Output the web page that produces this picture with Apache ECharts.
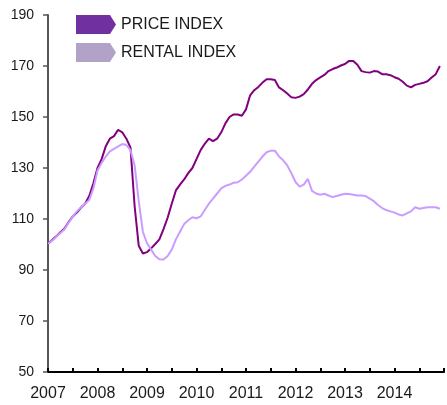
<!DOCTYPE html>
<html>
<head>
<meta charset="utf-8">
<script src="https://cdn.jsdelivr.net/npm/echarts@6/dist/echarts.min.js"></script>
<style>
html,body{margin:0;padding:0;background:#fff;}
#chart{width:447px;height:405px;}
</style>
</head>
<body>
<div id="chart"></div>
<script>
// Monthly observations, Jan 2007 .. Dec 2014
var startYear = 2007;
var priceIndex = [
  100.3,101.8,103.2,104.8,106.3,108.8,111.0,112.5,114.5,116.0,119.0,124.0,
  130.0,133.5,138.5,141.5,142.5,145.0,144.0,141.5,138.0,115.0,99.5,96.5,
  97.0,98.5,100.2,102.0,106.0,110.5,116.0,121.2,123.5,125.5,128.0,130.0,
  133.5,137.0,139.5,141.5,140.5,141.5,144.0,147.5,150.0,151.0,151.0,150.5,
  153.0,158.5,160.5,161.8,163.5,164.8,164.8,164.5,161.6,160.5,159.2,157.7,
  157.5,158.0,159.0,160.8,163.0,164.5,165.5,166.5,168.0,168.8,169.4,170.2,
  170.8,172.0,172.0,170.5,168.0,167.6,167.4,168.0,167.8,166.8,166.8,166.4,
  165.6,165.0,163.8,162.3,161.6,162.6,163.0,163.4,164.0,165.5,166.8,170.0
];
var rentalIndex = [
  100.3,101.5,103.0,104.5,106.0,108.5,111.0,113.0,114.6,116.0,117.5,122.0,
  129.0,132.0,134.5,136.5,137.5,138.5,139.4,139.0,137.0,131.0,117.0,105.0,
  100.5,98.0,95.5,94.2,94.1,95.5,98.0,102.0,105.0,108.0,109.5,110.7,
  110.3,111.0,113.5,116.0,118.0,120.0,122.0,123.0,123.5,124.2,124.4,125.5,
  127.0,128.5,130.5,132.5,134.5,136.2,136.8,136.8,134.5,133.0,131.0,128.0,
  124.5,122.7,123.5,125.7,121.0,120.0,119.5,119.9,119.2,118.6,119.0,119.5,
  119.9,119.8,119.5,119.2,119.2,119.0,118.0,117.0,115.5,114.3,113.5,113.0,
  112.5,111.8,111.4,112.2,113.0,114.6,114.0,114.3,114.6,114.6,114.6,114.0
];
var seriesNames = ['PRICE INDEX', 'RENTAL INDEX'];
var yearLabels = ['2007','2008','2009','2010','2011','2012','2013','2014'];

function toPairs(vals) {
  return vals.map(function (v, i) { return [startYear + i / 12, v]; });
}

var chart = echarts.init(document.getElementById('chart'), null, {renderer: 'canvas'});
var font = 'Liberation Sans, Arial, sans-serif';
chart.setOption({
  animation: false,
  backgroundColor: '#fff',
  grid: {left: 48, right: 0, top: 15, bottom: 33, containLabel: false},
  legend: {
    orient: 'vertical', left: 76, top: 15, itemWidth: 40, itemHeight: 19, itemGap: 9,
    padding: 0,
    icon: 'path://M0,0 L34,0 L40,9.5 L34,19 L0,19 Z',
    textStyle: {fontFamily: font, fontSize: 16, color: '#1a1a1a'},
    data: [
      {name: seriesNames[0], itemStyle: {color: '#7030a0'}},
      {name: seriesNames[1], itemStyle: {color: '#b3a2c7'}}
    ]
  },
  xAxis: {
    type: 'value', min: 2007, max: 2015, interval: 0.5,
    axisLine: {lineStyle: {color: '#000', width: 2}},
    axisTick: {inside: true, length: 4, lineStyle: {color: '#000', width: 2}},
    splitLine: {show: false},
    axisLabel: {
      fontFamily: font, fontSize: 16, color: '#1a1a1a', margin: 14,
      formatter: function (v) {
        var i = Math.round(v - startYear);
        return (Math.abs(v - Math.round(v)) < 1e-6 && yearLabels[i]) ? yearLabels[i] : '';
      }
    }
  },
  yAxis: {
    type: 'value', min: 50, max: 190, interval: 20,
    axisLine: {show: true, lineStyle: {color: '#555', width: 2}},
    axisTick: {show: true, length: 5, lineStyle: {color: '#555', width: 1.5}},
    splitLine: {show: false},
    axisLabel: {fontFamily: font, fontSize: 14, color: '#1a1a1a', margin: 14}
  },
  series: [
    {
      name: seriesNames[0], type: 'line', data: toPairs(priceIndex), showSymbol: false,
      lineStyle: {color: '#800080', width: 2}, itemStyle: {color: '#7030a0'}, z: 2
    },
    {
      name: seriesNames[1], type: 'line', data: toPairs(rentalIndex), showSymbol: false,
      lineStyle: {color: '#c99cff', width: 2}, itemStyle: {color: '#b3a2c7'}, z: 3
    }
  ]
});
</script>
</body>
</html>
